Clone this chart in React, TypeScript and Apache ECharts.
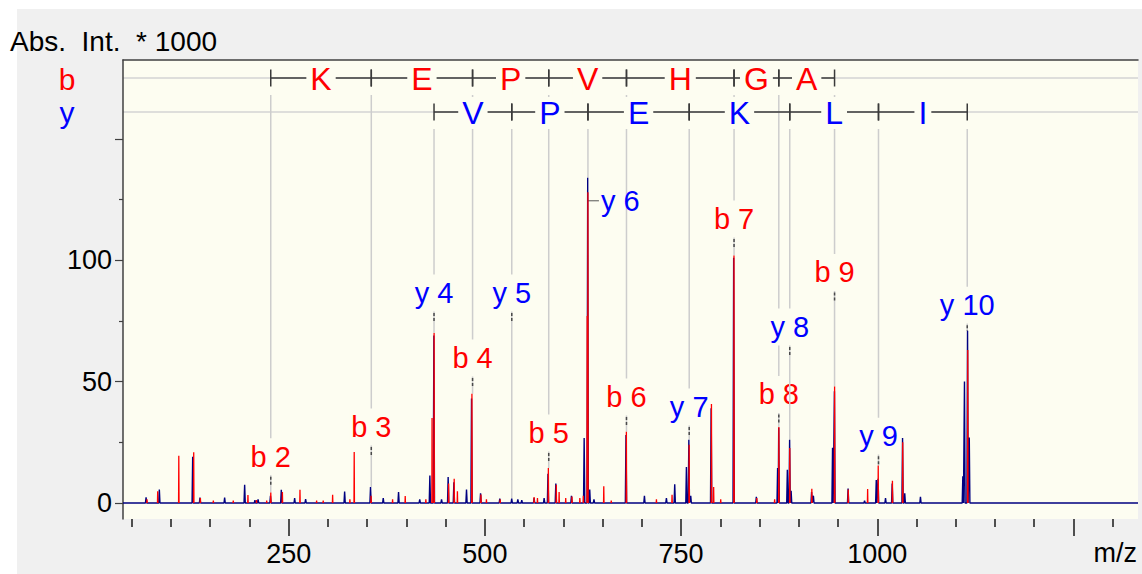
import React, { useEffect, useRef } from "react";
import * as echarts from "echarts";

// ---- spectrum data (m/z, intensity in thousands) ----
// profile trace (navy)
const profileMz = [
  68.3, 85.2, 127.7, 137.0, 168.4, 193.9, 207, 211, 226.8, 240.6, 257.6, 271.6,
  321.3, 354.3, 370.5, 390.0, 417, 429.9, 435.0, 444.8, 453.2, 460.5, 476.6, 483.0,
  494.5, 519, 534.2, 542, 547, 562.7, 575.5, 580.4, 590.4, 610.3, 626.5, 631.0,
  633.6, 639, 679.8, 703.3, 731.3, 741.9, 756.8, 759.9, 762.3, 788.3, 817.0, 845.9,
  873.0, 874.4, 885.4, 888.3, 890.2, 916.3, 918.6, 943.0, 945.4, 962.8, 983.8, 998.7,
  1001.0, 1010.5, 1019, 1032.2, 1035, 1055, 1109, 1111.1, 1115.0, 1117.2,
];
const profileInt = [
  2.3, 5.5, 19, 2.2, 2.2, 7.5, 1.2, 1.5, 3, 5.4, 2, 1.6,
  4.7, 6.6, 2, 4.5, 1.5, 11.3, 69, 1.5, 10.7, 8.5, 5.5, 43,
  4, 1.8, 1.8, 1.5, 1.2, 2, 2, 12, 8, 3, 26.8, 134,
  5.5, 1.5, 28, 3, 2, 7.7, 14.8, 26, 3, 39, 101, 2.5,
  14.4, 31, 13.7, 26, 5, 4.5, 3, 22.7, 46, 6, 1, 9.5,
  10, 2, 8, 26.8, 4, 2.5, 11, 50, 71, 27,
];

// second trace (red)
const stickMz = [
  69.5, 83.1, 110.0, 129.0, 137.5, 154, 179.4, 198.1, 209, 222, 227.2, 242.0,
  264.4, 285.6, 294, 306.0, 328, 333.5, 355.0, 382.4, 398.5, 424.8, 432.7, 435.3,
  453.8, 460.9, 465.0, 483.5, 495, 502, 519.5, 562.7, 567, 580.9, 591.0, 594.6,
  603, 611, 621, 625.5, 630.4, 631.3, 651.5, 661, 680.3, 718.6, 738.5, 760.3,
  788.7, 791.5, 800.5, 817.4, 846.5, 869.2, 874.6, 888.5, 916.6, 945.6, 963, 987.7,
  1001.2, 1019.3, 1032.4, 1115.3,
];
const stickInt = [
  1.5, 4.8, 19.5, 20.9, 2, 1, 1, 3.3, 1.2, 1, 4.3, 4.5,
  5.4, 1, 1, 3.4, 1.5, 21, 3, 1.5, 2.9, 1.5, 35, 70,
  8, 10, 4.8, 45, 3.5, 1.5, 1.5, 2.5, 2, 14.4, 7.5, 4.5,
  2, 2.7, 2, 3, 77, 128, 6.9, 1, 29.3, 1.5, 3.4, 24,
  40.8, 6.6, 1.5, 102, 2, 1.5, 31.3, 22.7, 5.9, 48, 5.5, 5.8,
  15.4, 9.2, 25, 63,
];

// ---- fragment ion assignments ----
const bIonNumbers = [2, 3, 4, 5, 6, 7, 8, 9];
const bIonMz = [227.17, 355.27, 484.31, 581.36, 680.43, 817.49, 874.51, 945.55];
const bResidues = ["K", "E", "P", "V", "H", "G", "A"];
const bLabelLevels = [19.0, 31.3, 59.7, 28.8, 43.7, 117, 44.7, 95];

const yIonNumbers = [4, 5, 6, 7, 8, 9, 10];
const yIonMz = [435.2, 534.27, 631.32, 760.36, 888.46, 1001.54, 1114.63];
const yResidues = ["V", "P", "E", "K", "L", "I"];
const yLabelLevels = [86.5, 86.5, 124.5, 39.5, 72.5, 27.5, 81.5];

// ---- axes ----
const X_MIN = 38.9;
const X_MAX = 1332.2;
const Y_MIN = -6.6;
const Y_MAX = 182.5;
const xMajorTicks = [250, 500, 750, 1000, 1250];
const xLabels = [250, 500, 750, 1000];
const xMinorTicks = [50, 100, 150, 200, 300, 350, 400, 450, 550, 600, 650, 700, 800, 850, 900, 950, 1050, 1100, 1150, 1200, 1300];
const yMajorTicks = [0, 50, 100, 150];
const yLabels = [0, 50, 100];
const yMinorTicks = [25, 75, 125];

const FONT = '"Liberation Sans", Arial, Helvetica, sans-serif';
const RED = "#ff0000";
const BLUE = "#0000ff";
const NAVY = "#000080";
const PLOT_BG = "#fdfdf1";
const LADDER = "#3a3a3a";
const GUIDE = "#cdcdcd";

const GRID = { left: 123, top: 60, width: 1015, height: 459 };
const ROW_B = 18; // ladder rows, px below plot top
const ROW_Y = 52;

// continuous trace: baseline with a narrow triangle per peak
function profileData(mz: number[], h: number[], half: number) {
  const order = mz.map((_, i) => i).sort((a, b) => mz[a] - mz[b]);
  const pts: number[][] = [[X_MIN, 0]];
  let last = X_MIN;
  order.forEach((i) => {
    const l = Math.max(mz[i] - half, last);
    pts.push([l, 0], [mz[i], h[i]], [mz[i] + half, 0]);
    last = mz[i] + half;
  });
  pts.push([X_MAX, 0]);
  return pts;
}

// isolated sticks, separated by gaps
function stickData(mz: number[], h: number[], half: number) {
  const pts: (number | string)[][] = [];
  mz.forEach((m, i) => {
    pts.push([m - half, 0], [m, h[i]], [m + half, 0], [m + half, "-"]);
  });
  return pts;
}

// highest peak of either trace near an ion's m/z
function peakAt(m: number) {
  let best = 0;
  profileMz.forEach((v, i) => {
    if (Math.abs(v - m) <= 1.0) best = Math.max(best, profileInt[i]);
  });
  stickMz.forEach((v, i) => {
    if (Math.abs(v - m) <= 1.0) best = Math.max(best, stickInt[i]);
  });
  return best;
}

function ladderSeries(ions: number[], residues: string[], rowOffset: number, color: string) {
  const data = residues.map((_, i) => [ions[i], ions[i + 1]]);
  return {
    type: "custom",
    silent: true,
    z: 3,
    encode: { x: [0, 1] },
    data,
    renderItem: (params: any, api: any) => {
      const x0 = api.coord([api.value(0), 0])[0];
      const x1 = api.coord([api.value(1), 0])[0];
      const y = params.coordSys.y + rowOffset;
      return {
        type: "group",
        children: [
          { type: "line", shape: { x1: x0, y1: y, x2: x1, y2: y }, style: { stroke: LADDER, lineWidth: 1.5 } },
          { type: "line", shape: { x1: x0, y1: y - 8.5, x2: x0, y2: y + 8.5 }, style: { stroke: LADDER, lineWidth: 1.5 } },
          { type: "line", shape: { x1: x1, y1: y - 8.5, x2: x1, y2: y + 8.5 }, style: { stroke: LADDER, lineWidth: 1.5 } },
          {
            type: "text",
            x: (x0 + x1) / 2,
            y: y + 1,
            style: {
              text: residues[params.dataIndex],
              fill: color,
              fontSize: 32,
              fontFamily: FONT,
              align: "center",
              verticalAlign: "middle",
              backgroundColor: PLOT_BG,
              padding: [0, 4],
            },
          },
        ],
      };
    },
  };
}

function ionSeries(prefix: string, numbers: number[], ions: number[], levels: number[], rowOffset: number, color: string) {
  const data = ions.map((m, i) => [m, peakAt(m), levels[i]]);
  return {
    type: "custom",
    silent: true,
    z: 1,
    encode: { x: 0, y: [1, 2] },
    data,
    renderItem: (params: any, api: any) => {
      const top = api.coord([api.value(0), api.value(1)]);
      const px = top[0];
      const peakY = top[1];
      const labelY = api.coord([api.value(0), api.value(2)])[1];
      const startY = params.coordSys.y + rowOffset + 17;
      const text = `${prefix} ${numbers[params.dataIndex]}`;
      const children: any[] = [
        { type: "line", shape: { x1: px, y1: startY, x2: px, y2: peakY }, style: { stroke: GUIDE, lineWidth: 1.5 } },
      ];
      if (peakY < labelY) {
        // peak rises above the label level: label sits beside the line
        children.push(
          { type: "line", shape: { x1: px, y1: labelY, x2: px + 11, y2: labelY }, style: { stroke: "#555", lineWidth: 1 } },
          {
            type: "text",
            x: px + 13,
            y: labelY,
            style: { text, fill: color, fontSize: 29, fontFamily: FONT, align: "left", verticalAlign: "middle" },
          }
        );
      } else {
        const below = labelY + 15;
        if (peakY > below) {
          children.push({
            type: "line",
            shape: { x1: px, y1: below, x2: px, y2: Math.min(below + 14, peakY) },
            style: { stroke: "#4a4a4a", lineWidth: 1.5, lineDash: [3, 2] },
          });
        }
        children.push({
          type: "text",
          x: px,
          y: labelY,
          style: {
            text,
            fill: color,
            fontSize: 29,
            fontFamily: FONT,
            align: "center",
            verticalAlign: "middle",
            backgroundColor: PLOT_BG,
            padding: [4, 2],
          },
        });
      }
      return { type: "group", children };
    },
  };
}

const tickStyle = { color: "#1a1a1a", width: 1.5 };
const plainNumber = (v: number) => String(v);

const option: any = {
  animation: false,
  backgroundColor: "transparent",
  grid: [
    { ...GRID, show: true, backgroundColor: PLOT_BG, borderWidth: 0, outerBoundsMode: "none" },
    { ...GRID, show: false, outerBoundsMode: "none" },
  ],
  xAxis: [
    {
      gridIndex: 0,
      type: "value",
      min: X_MIN,
      max: X_MAX,
      position: "bottom",
      axisLine: { show: false, onZero: false },
      axisTick: { show: true, customValues: xMajorTicks, length: 17, lineStyle: tickStyle },
      axisLabel: { customValues: xLabels, formatter: plainNumber, fontSize: 27, color: "#000", fontFamily: FONT, margin: 21 },
      splitLine: { show: false },
    },
    {
      gridIndex: 0,
      type: "value",
      min: X_MIN,
      max: X_MAX,
      position: "top",
      axisLine: { show: true, onZero: false, lineStyle: { color: "#404040", width: 1.5 } },
      axisTick: { show: false },
      axisLabel: { show: false },
      splitLine: { show: false },
    },
    {
      gridIndex: 1,
      type: "value",
      min: X_MIN,
      max: X_MAX,
      position: "bottom",
      axisLine: { show: false, onZero: false },
      axisTick: { show: true, customValues: xMinorTicks, length: 8, lineStyle: tickStyle },
      axisLabel: { show: false },
      splitLine: { show: false },
    },
  ],
  yAxis: [
    {
      gridIndex: 0,
      type: "value",
      min: Y_MIN,
      max: Y_MAX,
      position: "left",
      axisLine: { show: true, onZero: false, lineStyle: { color: "#404040", width: 1.5 } },
      axisTick: { show: true, customValues: yMajorTicks, length: 8, lineStyle: { color: "#404040", width: 1.2 } },
      axisLabel: { customValues: yLabels, formatter: plainNumber, fontSize: 27, color: "#000", fontFamily: FONT, margin: 11 },
      splitLine: { show: false },
    },
    {
      gridIndex: 1,
      type: "value",
      min: Y_MIN,
      max: Y_MAX,
      position: "left",
      axisLine: { show: false, onZero: false },
      axisTick: { show: true, customValues: yMinorTicks, length: 4, lineStyle: { color: "#404040", width: 1.2 } },
      axisLabel: { show: false },
      splitLine: { show: false },
    },
  ],
  graphic: [
    {
      type: "line",
      shape: { x1: GRID.left, y1: GRID.top + ROW_B, x2: GRID.left + GRID.width, y2: GRID.top + ROW_B },
      style: { stroke: "#d3d3d3", lineWidth: 1.5 },
      z: 0,
    },
    {
      type: "line",
      shape: { x1: GRID.left, y1: GRID.top + ROW_Y, x2: GRID.left + GRID.width, y2: GRID.top + ROW_Y },
      style: { stroke: "#d3d3d3", lineWidth: 1.5 },
      z: 0,
    },
    {
      type: "text",
      x: 10,
      y: 41,
      style: { text: "Abs.  Int.  * 1000", fill: "#000", fontSize: 28, fontFamily: FONT, verticalAlign: "middle" },
    },
    {
      type: "text",
      x: 67,
      y: 79,
      style: { text: "b", fill: RED, fontSize: 30, fontFamily: FONT, align: "center", verticalAlign: "middle" },
    },
    {
      type: "text",
      x: 67,
      y: 112,
      style: { text: "y", fill: BLUE, fontSize: 30, fontFamily: FONT, align: "center", verticalAlign: "middle" },
    },
    {
      type: "text",
      x: 1137,
      y: 553,
      style: { text: "m/z", fill: "#000", fontSize: 27, fontFamily: FONT, align: "right", verticalAlign: "middle" },
    },
  ],
  series: [
    ionSeries("b", bIonNumbers, bIonMz, bLabelLevels, ROW_B, RED),
    ionSeries("y", yIonNumbers, yIonMz, yLabelLevels, ROW_Y, BLUE),
    {
      type: "line",
      name: "profile",
      xAxisIndex: 0,
      yAxisIndex: 0,
      data: profileData(profileMz, profileInt, 0.8),
      symbol: "none",
      silent: true,
      z: 4,
      lineStyle: { color: NAVY, width: 1.4 },
    },
    {
      type: "line",
      name: "sticks",
      xAxisIndex: 0,
      yAxisIndex: 0,
      data: stickData(stickMz, stickInt, 0.3),
      symbol: "none",
      silent: true,
      connectNulls: false,
      z: 5,
      lineStyle: { color: RED, width: 1.3 },
    },
    ladderSeries(bIonMz, bResidues, ROW_B, RED),
    ladderSeries(yIonMz, yResidues, ROW_Y, BLUE),
  ],
};

export default function App() {
  const ref = useRef<HTMLDivElement>(null);
  useEffect(() => {
    if (!ref.current) return;
    const chart = echarts.init(ref.current, undefined, { renderer: "svg", width: 1142, height: 574 });
    chart.setOption(option);
    return () => chart.dispose();
  }, []);
  return (
    <div style={{ position: "absolute", left: 0, top: 0, width: 1142, height: 574, background: "#ffffff" }}>
      <div style={{ position: "absolute", left: 17, top: 9, width: 1125, height: 565, background: "#f0f0f0" }} />
      <div ref={ref} style={{ position: "absolute", left: 0, top: 0, width: 1142, height: 574 }} />
    </div>
  );
}
